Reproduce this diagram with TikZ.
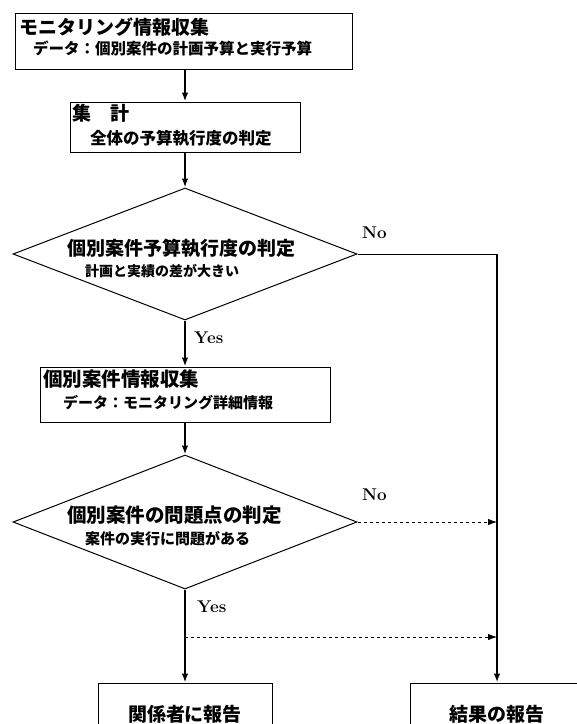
\documentclass[tikz,border=0pt]{standalone}
\usepackage{fontspec}
\newfontfamily\jpfont{Noto Sans CJK JP}
\usetikzlibrary{shapes.geometric, arrows.meta, calc}
\newcommand\headsz{\fontsize{19}{22}\selectfont}
\newcommand\notesz{\fontsize{15}{18}\selectfont}

\begin{document}
\begin{tikzpicture}[x=1pt, y=-1pt, >={Latex[length=9pt,width=6.5pt]},
  box/.style={draw, line width=1pt, inner sep=0pt, font=\jpfont\bfseries},
  decision/.style={diamond, draw, line width=1pt, inner sep=0pt,
    minimum width=344pt, minimum height=134pt},
  lbl/.style={inner sep=0pt, anchor=west, font=\jpfont\bfseries},
  yn/.style={inner sep=0pt, anchor=west, font=\fontsize{17}{20}\selectfont\bfseries},
  flow/.style={->, line width=1.8pt},
  side/.style={->, line width=0.8pt, dashed}]
  \useasboundingbox (0,0) rectangle (577,724);
  \clip (0,0) rectangle (577,724);
  % monitoring
  \node[box, minimum width=337pt, minimum height=56pt] (mon) at (183.5,41) {};
  \node[lbl] (mon1) at (19,27) {\headsz モニタリング情報収集};
  \node[lbl] (mon2) at (33,48) {\fontsize{15.5}{18}\selectfont データ：個別案件の計画予算と実行予算};
  % aggregate
  \node[box, minimum width=230pt, minimum height=50pt] (agg) at (185,127) {};
  \node[lbl] (agg1) at (72,113) {\headsz 集　計};
  \node[lbl] (agg2) at (90,138) {\fontsize{16.5}{18}\selectfont 全体の予算執行度の判定};
  % first decision
  \node[decision, minimum height=132pt] (d1) at (185,254) {};
  \node[lbl] (d1a) at (67,248) {\headsz 個別案件予算執行度の判定};
  \node[lbl] (d1b) at (85,271) {\fontsize{14}{17}\selectfont 計画と実績の差が大きい};
  % case data
  \node[box, minimum width=290pt, minimum height=55pt] (ind) at (185,394.5) {};
  \node[lbl] (ind1) at (43,379) {\fontsize{19.5}{22}\selectfont 個別案件情報収集};
  \node[lbl] (ind2) at (63,403) {\notesz データ：モニタリング詳細情報};
  % second decision
  \node[decision] (d2) at (185,522) {};
  \node[lbl] (d2a) at (67,515) {\fontsize{19.5}{22}\selectfont 個別案件の問題点の判定};
  \node[lbl] (d2b) at (85,539) {\notesz 案件の実行に問題がある};
  % reports
  \node[box, minimum width=174pt, minimum height=62pt] (rel) at (185,714) {\headsz 関係者に報告};
  \node[box, minimum width=174pt, minimum height=62pt] (res) at (497,714) {\headsz 結果の報告};
  \coordinate (br) at (185,637);
  % connectors
  \draw[flow] (mon.south -| agg.north) -- (agg.north);
  \draw[flow] (agg.south) -- (d1.north);
  \draw[flow] (d1.south) -- (ind.north);
  \draw[flow] (ind.south) -- (d2.north);
  \draw[flow] (d2.south) -- (rel.north);
  \draw[line width=0.8pt] (d1.east) -- (d1.east -| res.north);
  \draw[flow, line width=2.4pt] (d1.east -| res.north) -- (res.north);
  \draw[side] (d2.east) -- (d2.east -| res.north);
  \draw[side] (br) -- (br -| res.north);
  \node[yn] (yes1) at (194,338) {Yes};
  \node[yn] (no1) at (362,233) {No};
  \node[yn] (no2) at (362,495) {No};
  \node[yn] (yes2) at (197,607) {Yes};
\end{tikzpicture}
\end{document}
